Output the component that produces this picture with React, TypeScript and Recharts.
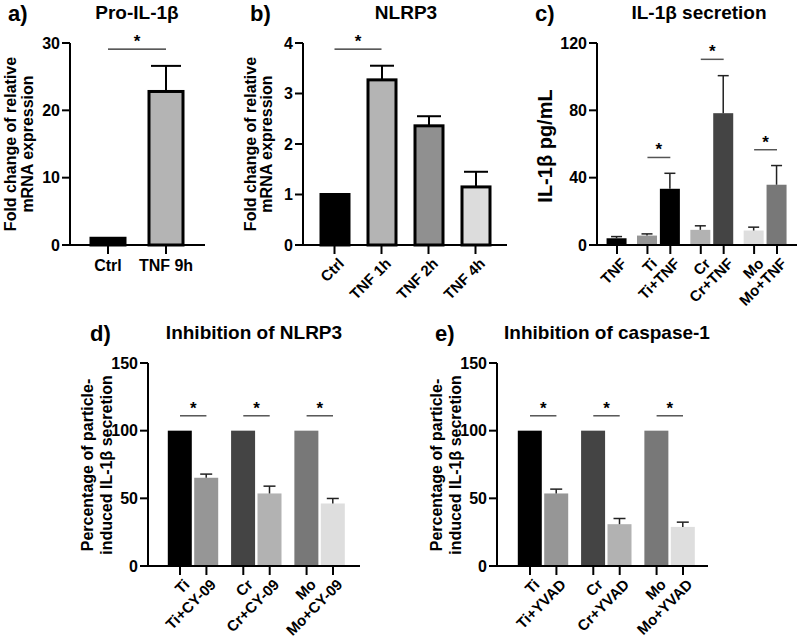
import React from "react"
import { BarChart, Bar, XAxis, YAxis, Cell, ReferenceLine } from "recharts"

const FONT = '"Liberation Sans", Arial, Helvetica, sans-serif'

// a) Pro-IL-1β
const proCats = ["Ctrl", "TNF 9h"]
const proVals = [1, 22.8]
const proErr = [0, 3.8]
const proColors = ["#000000", "#b4b4b4"]
const proTicks = [0, 10, 20, 30]
const proSig = [[0, 1, 29.1]]

// b) NLRP3
const nlrpCats = ["Ctrl", "TNF 1h", "TNF 2h", "TNF 4h"]
const nlrpVals = [1, 3.27, 2.36, 1.15]
const nlrpErr = [0, 0.28, 0.19, 0.3]
const nlrpColors = ["#000000", "#b4b4b4", "#909090", "#dcdcdc"]
const nlrpTicks = [0, 1, 2, 3, 4]
const nlrpSig = [[0, 1, 3.88]]

// c) IL-1β secretion
const secCats = ["TNF", "Ti", "Ti+TNF", "Cr", "Cr+TNF", "Mo", "Mo+TNF"]
const secGroups = [0, 1, 1, 2, 2, 3, 3]
const secVals = [4.0, 5.6, 33.4, 9.0, 78.3, 8.6, 35.8]
const secErr = [1.0, 1.0, 9.2, 2.4, 22.3, 2.0, 11.4]
const secColors = ["#000000", "#969696", "#000000", "#b2b2b2", "#444444", "#dedede", "#787878"]
const secTicks = [0, 40, 80, 120]
const secSig = [[1, 2, 52], [3, 4, 110.3], [5, 6, 56.6]]

// d) Inhibition of NLRP3
const cyCats = ["Ti", "Ti+CY-09", "Cr", "Cr+CY-09", "Mo", "Mo+CY-09"]
const cyVals = [100, 65.2, 100, 53.6, 100, 46.2]
const cyErr = [0, 2.7, 0, 5.4, 0, 3.7]

// e) Inhibition of caspase-1
const yvadCats = ["Ti", "Ti+YVAD", "Cr", "Cr+YVAD", "Mo", "Mo+YVAD"]
const yvadVals = [100, 53.6, 100, 30.9, 100, 28.9]
const yvadErr = [0, 3.2, 0, 4.2, 0, 3.5]

const pairGroups = [0, 0, 1, 1, 2, 2]
const pairColors = ["#000000", "#969696", "#444444", "#b2b2b2", "#787878", "#dedede"]
const pctTicks = [0, 50, 100, 150]
const pairSig = [[0, 1, 111], [2, 3, 111], [4, 5, 111]]

const AXIS_W = 70
const TOP_M = 30

function BarWithError(props: any) {
  const { x, y, width, height, fill, payload, outlined, cap, errColor, errWidth } = props
  const cx = x + width / 2
  const ppu = payload.value ? height / payload.value : 0
  const errTop = y - payload.err * ppu
  return (
    <g>
      <rect
        x={x}
        y={y}
        width={width}
        height={height}
        fill={fill}
        stroke={outlined ? "#000" : "none"}
        strokeWidth={outlined ? 3 : 0}
      />
      {payload.err > 0 && (
        <g stroke={errColor} strokeWidth={errWidth}>
          <line x1={cx} x2={cx} y1={y} y2={errTop} />
          <line x1={cx - cap / 2} x2={cx + cap / 2} y1={errTop} y2={errTop} />
        </g>
      )}
    </g>
  )
}

type PanelProps = {
  cats: string[]
  vals: number[]
  errs: number[]
  colors: string[]
  groups?: number[]
  groupGap?: number
  yTicks: number[]
  sig: number[][]
  left: number
  top: number
  width: number
  height: number
  padL: number
  padR: number
  barSize: number
  outlined?: boolean
  cap: number
  slanted: boolean
  sigColor: string
  sigWidth: number
}

function Panel(p: PanelProps) {
  const numeric = !!p.groups
  const rows = p.cats.map((c, i) => ({
    name: c,
    pos: numeric ? i + p.groups![i] * (p.groupGap || 0) : i,
    value: p.vals[i],
    err: p.errs[i],
  }))
  const xOf = (i: number) => (numeric ? rows[i].pos : rows[i].name)
  const errColor = p.outlined ? "#000" : "#222"
  const errWidth = p.outlined ? 2 : 1.5

  const tickStyle = p.slanted
    ? { fontSize: 15, fontWeight: 700, fill: "#000", fontFamily: FONT, angle: -45, textAnchor: "end", verticalAnchor: "middle", dx: 3, dy: 0 }
    : { fontSize: 16, fontWeight: 700, fill: "#000", fontFamily: FONT, dy: 3 }

  const xCommon = {
    interval: 0 as const,
    padding: { left: p.padL, right: p.padR },
    height: 80,
    axisLine: { stroke: "#000", strokeWidth: 2 },
    tickLine: { stroke: "#000", strokeWidth: 2 },
    tickSize: 9,
    tickMargin: 3,
    tick: tickStyle as any,
    tickFormatter: (_v: any, i: number) => p.cats[i],
  }

  return (
    <div style={{ position: "absolute", left: p.left - AXIS_W, top: p.top - TOP_M }}>
      <BarChart
        width={AXIS_W + p.width + 4}
        height={TOP_M + p.height + 80}
        data={rows}
        margin={{ top: TOP_M, right: 4, bottom: 0, left: 0 }}
      >
        {numeric ? (
          <XAxis
            type="number"
            dataKey="pos"
            domain={["dataMin", "dataMax"]}
            ticks={rows.map((r) => r.pos)}
            {...xCommon}
          />
        ) : (
          <XAxis dataKey="name" {...xCommon} />
        )}
        <YAxis
          width={AXIS_W}
          domain={[p.yTicks[0], p.yTicks[p.yTicks.length - 1]]}
          ticks={p.yTicks}
          interval={0}
          axisLine={{ stroke: "#000", strokeWidth: 2 }}
          tickLine={{ stroke: "#000", strokeWidth: 2 }}
          tickSize={8}
          tickMargin={2}
          tick={{ fontSize: 16, fontWeight: 700, fill: "#000", fontFamily: FONT }}
        />
        <Bar
          dataKey="value"
          barSize={p.barSize}
          isAnimationActive={false}
          shape={(sp: any) => (
            <BarWithError {...sp} outlined={p.outlined} cap={p.cap} errColor={errColor} errWidth={errWidth} />
          )}
        >
          {rows.map((r, i) => (
            <Cell key={r.name} fill={p.colors[i]} />
          ))}
        </Bar>
        {p.sig.map(([a, b, v], i) => (
          <ReferenceLine
            key={i}
            segment={[
              { x: xOf(a), y: v },
              { x: xOf(b), y: v },
            ]}
            stroke={p.sigColor}
            strokeWidth={p.sigWidth}
            label={{
              value: "*",
              position: "top",
              offset: 2,
              fontSize: 17,
              fontWeight: 700,
              fill: "#000",
              fontFamily: FONT,
            }}
          />
        ))}
      </BarChart>
    </div>
  )
}

function Txt({ x, y, size, children, anchor = "middle", rot = false }: any) {
  return (
    <text
      x={x}
      y={y}
      textAnchor={anchor}
      dominantBaseline="central"
      fontSize={size}
      fontWeight={700}
      fontFamily={FONT}
      fill="#000"
      transform={rot ? `rotate(-90 ${x} ${y})` : undefined}
    >
      {children}
    </text>
  )
}

export default function App() {
  return (
    <div
      style={{
        position: "absolute",
        left: 0,
        top: 0,
        width: 800,
        height: 640,
        overflow: "hidden",
        background: "#fff",
        fontFamily: FONT,
      }}
    >
      <Panel
        cats={proCats} vals={proVals} errs={proErr} colors={proColors} yTicks={proTicks} sig={proSig}
        left={70} top={43} width={135} height={202} padL={9} padR={10} barSize={34}
        outlined cap={30} slanted={false} sigColor="#222" sigWidth={1.2}
      />
      <Panel
        cats={nlrpCats} vals={nlrpVals} errs={nlrpErr} colors={nlrpColors} yTicks={nlrpTicks} sig={nlrpSig}
        left={303} top={43} width={204} height={202} padL={8} padR={8} barSize={28}
        outlined cap={24} slanted sigColor="#222" sigWidth={1.2}
      />
      <Panel
        cats={secCats} vals={secVals} errs={secErr} colors={secColors} groups={secGroups} groupGap={0.33}
        yTicks={secTicks} sig={secSig}
        left={597} top={43} width={200} height={202} padL={20} padR={20} barSize={20}
        cap={11} slanted sigColor="#555" sigWidth={1.5}
      />
      <Panel
        cats={cyCats} vals={cyVals} errs={cyErr} colors={pairColors} groups={pairGroups} groupGap={0.396}
        yTicks={pctTicks} sig={pairSig}
        left={148} top={363} width={212} height={203} padL={32} padR={27} barSize={24}
        cap={12} slanted sigColor="#555" sigWidth={1.5}
      />
      <Panel
        cats={yvadCats} vals={yvadVals} errs={yvadErr} colors={pairColors} groups={pairGroups} groupGap={0.396}
        yTicks={pctTicks} sig={pairSig}
        left={497} top={363} width={211} height={203} padL={33} padR={25} barSize={24}
        cap={12} slanted sigColor="#555" sigWidth={1.5}
      />
      <svg width={800} height={640} style={{ position: "absolute", left: 0, top: 0, pointerEvents: "none" }}>
        <Txt x={8} y={13} size={22} anchor="start">a)</Txt>
        <Txt x={137} y={12} size={19}>Pro-IL-1β</Txt>
        <Txt x={250} y={13} size={22} anchor="start">b)</Txt>
        <Txt x={406} y={12} size={19}>NLRP3</Txt>
        <Txt x={535} y={13} size={22} anchor="start">c)</Txt>
        <Txt x={699} y={12} size={19}>IL-1β secretion</Txt>
        <Txt x={90} y={333} size={22} anchor="start">d)</Txt>
        <Txt x={254} y={332} size={19}>Inhibition of NLRP3</Txt>
        <Txt x={435} y={333} size={22} anchor="start">e)</Txt>
        <Txt x={607} y={332} size={19}>Inhibition of caspase-1</Txt>

        <Txt x={10} y={144} size={16} rot>Fold change of relative</Txt>
        <Txt x={27} y={144} size={16} rot>mRNA expression</Txt>
        <Txt x={250} y={144} size={16} rot>Fold change of relative</Txt>
        <Txt x={266} y={144} size={16} rot>mRNA expression</Txt>
        <Txt x={545} y={146} size={20} rot>IL-1β pg/mL</Txt>
        <Txt x={87} y={465} size={16} rot>Percentage of particle-</Txt>
        <Txt x={106} y={465} size={16} rot>induced IL-1β secretion</Txt>
        <Txt x={436} y={465} size={16} rot>Percentage of particle-</Txt>
        <Txt x={455} y={465} size={16} rot>induced IL-1β secretion</Txt>
      </svg>
    </div>
  )
}
